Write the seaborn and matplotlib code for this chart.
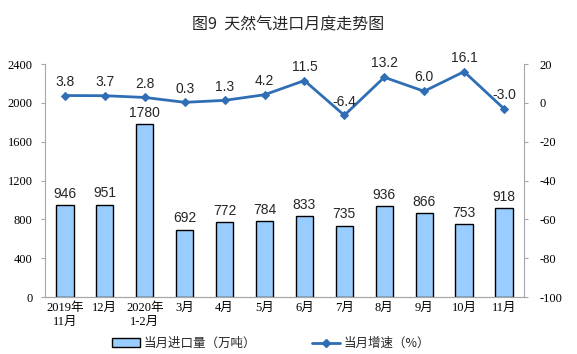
import matplotlib
matplotlib.use('Agg')
import matplotlib.pyplot as plt
import seaborn as sns
import pandas as pd
from matplotlib.patches import Patch
from matplotlib.lines import Line2D

# data
months = ['2019年\n11月', '12月', '2020年\n1-2月', '3月', '4月', '5月',
          '6月', '7月', '8月', '9月', '10月', '11月']
imports = [946, 951, 1780, 692, 772, 784, 833, 735, 936, 866, 753, 918]
growth = [3.8, 3.7, 2.8, 0.3, 1.3, 4.2, 11.5, -6.4, 13.2, 6.0, 16.1, -3.0]

df = pd.DataFrame({'month': months, 'imports': imports, 'growth': growth})

sns.set_style('white')
plt.rcParams['font.family'] = ['Liberation Serif', 'Noto Sans CJK SC']
plt.rcParams['axes.unicode_minus'] = False

bar_color = '#99CCFF'
line_color = '#2F6EB5'
axis_gray = '#A6A6A6'

fig = plt.figure(figsize=(5.77, 3.54), dpi=100)
ax = fig.add_axes([0.078, 0.161, 0.83, 0.658])

sns.barplot(data=df, x='month', y='imports', color=bar_color, width=0.43,
            edgecolor='black', linewidth=1.0, saturation=1, ax=ax)
ax.set_ylim(0, 2400)
ax.set_yticks(range(0, 2401, 400))
ax.set_xlabel('')
ax.set_ylabel('')

for i, v in enumerate(imports):
    ax.text(i, v + 45, str(v), ha='center', va='bottom', fontsize=10,
            family=['Liberation Sans', 'Noto Sans CJK SC'])

ax2 = ax.twinx()
sns.lineplot(data=df, x='month', y='growth', sort=False, color=line_color,
             linewidth=2.0, marker='D', markersize=4, markeredgecolor=line_color,
             ax=ax2)
ax2.set_ylim(-100, 20)
ax2.set_yticks(range(-100, 21, 20))
ax2.set_ylabel('')
ax2.set_xlabel('')
ax.set_xlim(-0.5, 11.5)

for i, v in enumerate(growth):
    ax2.text(i, v + 3.5, f'{v:.1f}', ha='center', va='bottom', fontsize=10,
             family=['Liberation Sans', 'Noto Sans CJK SC'])

for a in (ax, ax2):
    for s in a.spines.values():
        s.set_color(axis_gray)
        s.set_linewidth(0.8)
    a.spines['top'].set_visible(False)
    a.tick_params(axis='both', colors='black', labelsize=9, length=3,
                  color=axis_gray, width=0.8)
ax.spines['right'].set_visible(False)
ax2.spines['left'].set_visible(False)
ax.tick_params(axis='x', length=0, labelsize=9)
ax.tick_params(axis='y', pad=6)
ax2.tick_params(axis='y', pad=8)

fig.text(0.5, 0.93, '图9  天然气进口月度走势图', ha='center', va='center',
         fontsize=11.5, family=['Noto Sans CJK SC', 'DejaVu Sans'])

handles = [Patch(facecolor=bar_color, edgecolor='black', linewidth=1.0),
           Line2D([], [], color=line_color, linewidth=2.0, marker='D', markersize=4)]
labels = ['当月进口量（万吨）', '当月增速（%）']
fig.legend(handles, labels, loc='center', bbox_to_anchor=(0.47, 0.03), ncol=2,
           frameon=False, columnspacing=4.5, handlelength=2.2,
           handletextpad=0.3, prop={'family': ['Noto Sans CJK SC'], 'size': 9})

fig.savefig('out.png', dpi=100)
